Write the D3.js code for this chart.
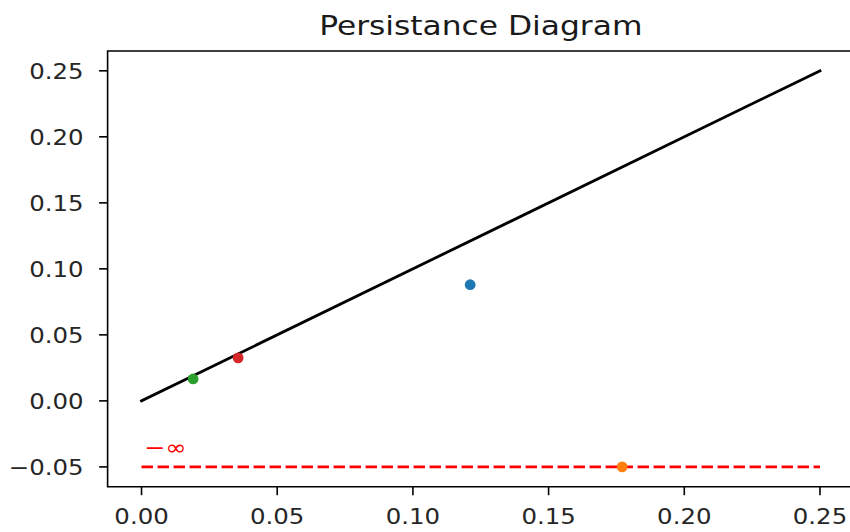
<!DOCTYPE html>
<html>
<head>
<meta charset="utf-8">
<script src="https://cdn.jsdelivr.net/npm/d3@7/dist/d3.min.js"></script>
<style>
  html, body { margin: 0; padding: 0; background: #fff; }
  svg { display: block; font-family: "DejaVu Sans", sans-serif; }
</style>
</head>
<body>
<svg id="chart" width="850" height="532"></svg>
<script>
// Persistence pairs (birth, death); death = -Infinity marks an essential class
const births = [0.1211, 0.1771, 0.0190, 0.0356];
const deaths = [0.0880, -Infinity, 0.0166, 0.0326];
const pointColors = ["#1f77b4", "#ff7f0e", "#2ca02c", "#d62728"];

// Value used to draw points that never die
const infLevel = -0.05;
const infLabel = "\u2212\u221E";

// Diagonal reference line endpoints
const diagonal = [0, 0.25];

const xTicks = [0.00, 0.05, 0.10, 0.15, 0.20, 0.25];
const yTicks = [-0.05, 0.00, 0.05, 0.10, 0.15, 0.20, 0.25];
const titleText = "Persistance Diagram";

const svg = d3.select("#chart");
const plot = { left: 107.6, right: 853.9, top: 51, bottom: 486.7 };
const stretch = 1.11; // horizontal glyph stretch

const x = d3.scaleLinear().domain([-0.0125, 0.2625]).range([plot.left, plot.right]);
const y = d3.scaleLinear().domain([-0.065, 0.265]).range([plot.bottom, plot.top]);

// Diagonal
svg.append("line")
  .attr("x1", x(diagonal[0])).attr("y1", y(diagonal[0]))
  .attr("x2", x(diagonal[1])).attr("y2", y(diagonal[1]))
  .attr("stroke", "#000").attr("stroke-width", 2.8).attr("stroke-linecap", "square");

// Infinity level
svg.append("line")
  .attr("x1", x(diagonal[0])).attr("y1", y(infLevel))
  .attr("x2", x(diagonal[1])).attr("y2", y(infLevel))
  .attr("stroke", "#ff0000").attr("stroke-width", 2.8)
  .attr("stroke-dasharray", "11.5,4.5");

svg.append("g")
  .attr("transform", `translate(${x(0.0010)},${y(infLevel) - 11.5}) scale(1.15,1)`)
  .append("text")
  .attr("font-size", 22)
  .attr("fill", "#ff0000")
  .text(infLabel);

// Points
const pts = births.map((b, i) => ({ b, d: deaths[i] === -Infinity ? infLevel : deaths[i], c: pointColors[i] }));
svg.append("g").selectAll("circle").data(pts).join("circle")
  .attr("cx", d => x(d.b)).attr("cy", d => y(d.d))
  .attr("r", 5.4).attr("fill", d => d.c);

// Spines (right spine lies beyond the visible area)
const spine = svg.append("g").attr("stroke", "#000").attr("stroke-width", 1.6).attr("fill", "none");
spine.append("path")
  .attr("d", `M${plot.right},${plot.top}H${plot.left}V${plot.bottom}H${plot.right}V${plot.top}`);

// X axis
const xAxis = svg.append("g");
xTicks.forEach(t => {
  xAxis.append("line")
    .attr("x1", x(t)).attr("x2", x(t))
    .attr("y1", plot.bottom).attr("y2", plot.bottom + 8.5)
    .attr("stroke", "#000").attr("stroke-width", 1.6);
  xAxis.append("g")
    .attr("transform", `translate(${x(t)},${plot.bottom + 37.6}) scale(${stretch},1)`)
    .append("text")
    .attr("text-anchor", "middle")
    .attr("font-size", 22)
    .attr("fill", "#262626")
    .text(d3.format(".2f")(t));
});

// Y axis
const yAxis = svg.append("g");
yTicks.forEach(t => {
  yAxis.append("line")
    .attr("x1", plot.left - 8.5).attr("x2", plot.left)
    .attr("y1", y(t)).attr("y2", y(t))
    .attr("stroke", "#000").attr("stroke-width", 1.6);
  yAxis.append("g")
    .attr("transform", `translate(${plot.left - 24},${y(t) + 8}) scale(${stretch},1)`)
    .append("text")
    .attr("text-anchor", "end")
    .attr("font-size", 22)
    .attr("fill", "#262626")
    .text(d3.format(".2f")(t).replace("-", "\u2212"));
});

// Title
svg.append("g")
  .attr("transform", `translate(${(plot.left + plot.right) / 2},${35}) scale(1.16,1)`)
  .append("text")
  .attr("text-anchor", "middle")
  .attr("font-size", 27)
  .attr("fill", "#1a1a1a")
  .text(titleText);
</script>
</body>
</html>
